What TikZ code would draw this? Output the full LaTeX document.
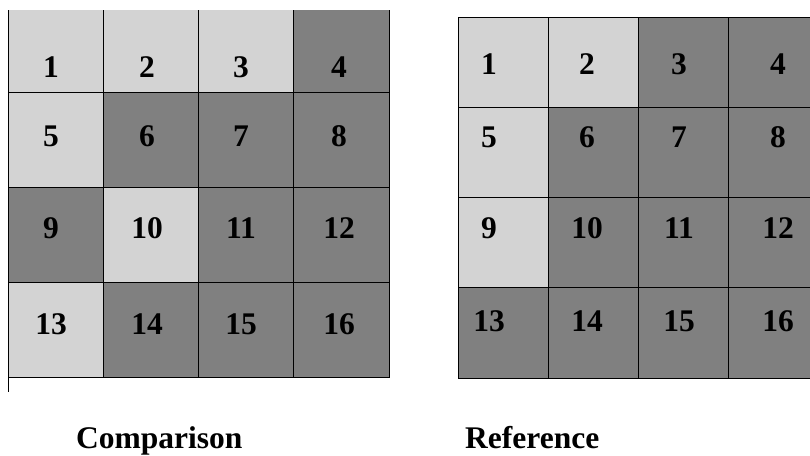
\documentclass[tikz,border=0pt]{standalone}
\usepackage{fontspec}
\setmainfont{Liberation Serif}
\usetikzlibrary{positioning}
\definecolor{litegray}{HTML}{D3D3D3}
\definecolor{midgray}{HTML}{808080}
\tikzset{
  L/.style={fill=litegray},
  D/.style={fill=midgray},
  gridline/.style={draw=black, line width=0.9pt},
  num/.style={inner sep=0pt, font=\bfseries\fontsize{31.5}{36}\selectfont},
  captext/.style={inner sep=0pt, anchor=base west, font=\bfseries\fontsize{31.5}{36}\selectfont},
}

\begin{document}
\begin{tikzpicture}[x=1pt, y=-1pt]
  \useasboundingbox (0,0) rectangle (810,455);
  % comparison grid (cut at the top)
  \begin{scope}
    \clip (0,10) rectangle (400,400);
    \foreach \n/\f [count=\k from 0] in {1/L,2/L,3/L,4/D,5/L,6/D,7/D,8/D,
        9/D,10/L,11/D,12/D,13/L,14/D,15/D,16/D} {
      \pgfmathtruncatemacro\c{mod(\k,4)}
      \pgfmathtruncatemacro\r{\k/4}
      \fill[\f] ({8+95.25*\c},{-3+95*\r}) rectangle ++(95.25,95);
    }
    \foreach \k in {0,...,15} {
      \pgfmathtruncatemacro\c{mod(\k,4)}
      \pgfmathtruncatemacro\r{\k/4}
      \draw[gridline] ({8+95.25*\c},{-3+95*\r}) rectangle ++(95.25,95);
    }
  \end{scope}
  \coordinate (ltop) at (8,10);
  \coordinate (lbot) at (8,392);
  \draw[gridline] (ltop) -- (lbot);
  \foreach \k in {0,...,15} {
    \pgfmathtruncatemacro\n{\k+1}
    \pgfmathtruncatemacro\c{mod(\k,4)}
    \pgfmathtruncatemacro\r{\k/4}
    \pgfmathsetmacro\lx{{51,147,241,339}[\c]}
    \pgfmathsetmacro\ly{{67,136,228,324}[\r]}
    \node[num] (cmp\n) at (\lx,\ly) {\n};
  }
  % reference grid (cut at the right)
  \begin{scope}
    \clip (440,0) rectangle (810,400);
    \foreach \n/\f [count=\k from 0] in {1/L,2/L,3/D,4/D,5/L,6/D,7/D,8/D,
        9/L,10/D,11/D,12/D,13/D,14/D,15/D,16/D} {
      \pgfmathtruncatemacro\c{mod(\k,4)}
      \pgfmathtruncatemacro\r{\k/4}
      \fill[\f] ({458+90.25*\c},{17+90.25*\r}) rectangle ++(90.25,90.25);
    }
    \foreach \k in {0,...,15} {
      \pgfmathtruncatemacro\c{mod(\k,4)}
      \pgfmathtruncatemacro\r{\k/4}
      \draw[gridline] ({458+90.25*\c},{17+90.25*\r}) rectangle ++(90.25,90.25);
    }
  \end{scope}
  \foreach \k in {0,...,15} {
    \pgfmathtruncatemacro\n{\k+1}
    \pgfmathtruncatemacro\c{mod(\k,4)}
    \pgfmathtruncatemacro\r{\k/4}
    \pgfmathsetmacro\lx{{489,587,679,778}[\c]}
    \pgfmathsetmacro\ly{{64,137,228,321}[\r]}
    \node[num] (ref\n) at (\lx,\ly) {\n};
  }
  % captions
  \node[captext] (cmpcap) at (76,448) {Comparison};
  \node[captext] (refcap) at (465,448) {Reference};
\end{tikzpicture}
\end{document}
